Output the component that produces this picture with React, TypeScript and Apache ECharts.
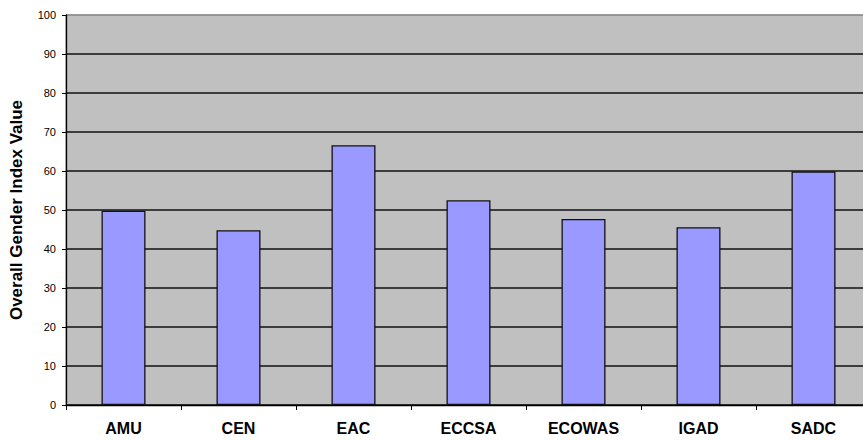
import React, { useEffect, useRef } from "react";
import * as echarts from "echarts";

const categories = ["AMU", "CEN", "EAC", "ECCSA", "ECOWAS", "IGAD", "SADC"];
const values = [49.8, 44.8, 66.6, 52.5, 47.7, 45.6, 59.9];
const yAxisTitle = "Overall Gender Index Value";

const gridColors = [
  "#111111", "#111111", "#111111", "#111111", "#111111",
  "#111111", "#111111", "#111111", "#111111", "#111111", "#8c8c8c",
];

export default function App() {
  const ref = useRef<HTMLDivElement>(null);
  useEffect(() => {
    document.body.style.margin = "0";
    document.body.style.overflow = "hidden";
    const chart = echarts.init(ref.current!, null, { renderer: "svg" });
    chart.setOption({
      animation: false,
      backgroundColor: "#ffffff",
      textStyle: { fontFamily: "Liberation Sans, Arial, sans-serif" },
      grid: {
        left: 66,
        right: 9,
        top: 15,
        bottom: 35,
        show: true,
        backgroundColor: "#c0c0c0",
        borderColor: "#8c8c8c",
        borderWidth: 1,
      },
      xAxis: {
        type: "category",
        data: categories,
        axisLine: { lineStyle: { color: "#000", width: 1.3 } },
        axisTick: { show: true, length: 5, inside: false, lineStyle: { color: "#000" } },
        axisLabel: {
          margin: 15,
          color: "#000",
          fontSize: 16,
          fontWeight: "bold",
          fontFamily: "Liberation Sans, Arial, sans-serif",
        },
        splitLine: { show: false },
      },
      yAxis: {
        type: "value",
        min: 0,
        max: 100,
        interval: 10,
        name: yAxisTitle,
        nameLocation: "middle",
        nameRotate: 90,
        nameGap: 41,
        nameTextStyle: {
          color: "#000",
          fontSize: 17,
          fontWeight: "bold",
          fontFamily: "Liberation Sans, Arial, sans-serif",
        },
        axisLine: { show: true, lineStyle: { color: "#000", width: 1.3 } },
        axisTick: { show: true, length: 4, inside: false, lineStyle: { color: "#000" } },
        axisLabel: {
          margin: 10,
          color: "#000",
          fontSize: 11,
          fontFamily: "Liberation Sans, Arial, sans-serif",
        },
        splitLine: { show: true, lineStyle: { color: gridColors, width: 1.5 } },
      },
      series: [
        {
          type: "bar",
          data: values,
          barWidth: 44,
          itemStyle: { color: "#9999ff", borderColor: "#111", borderWidth: 1.3 },
        },
      ],
    });
    return () => chart.dispose();
  }, []);
  return (
    <div
      ref={ref}
      style={{ position: "fixed", left: 0, top: 0, width: 880, height: 440 }}
    />
  );
}
